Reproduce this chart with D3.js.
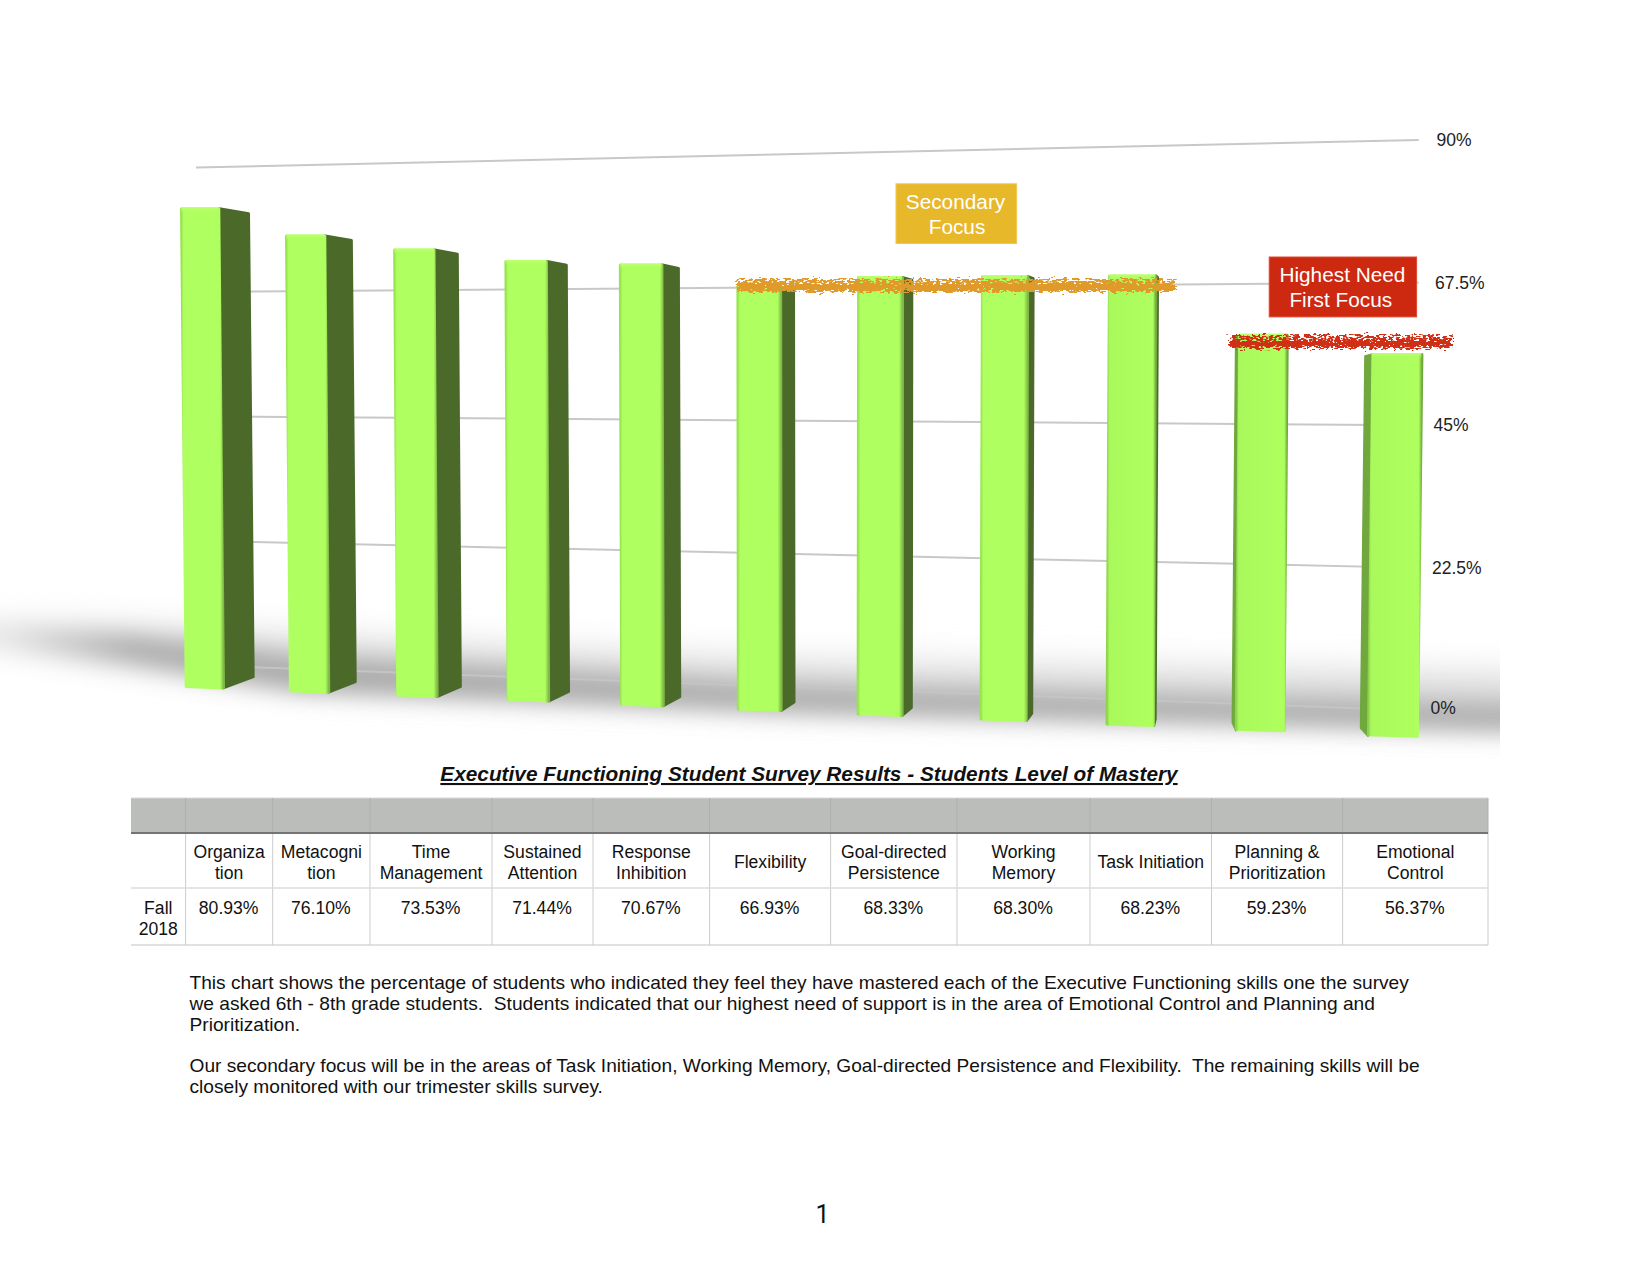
<!DOCTYPE html>
<html><head><meta charset="utf-8">
<style>html,body{margin:0;padding:0;background:#fff}svg{display:block}text{font-family:"Liberation Sans",Arial,sans-serif}</style>
<script src="https://cdn.jsdelivr.net/npm/d3@7"></script>
</head><body><div id="chart"></div>
<script>
const categories = ["Organiza\ntion","Metacogni\ntion","Time\nManagement","Sustained\nAttention","Response\nInhibition","Flexibility","Goal-directed\nPersistence","Working\nMemory","Task Initiation","Planning &\nPrioritization","Emotional\nControl"];
const values = [80.93,76.10,73.53,71.44,70.67,66.93,68.33,68.30,68.23,59.23,56.37];
const rowLabel = "Fall\n2018";
const tickValues = [0,22.5,45,67.5,90];
const tickLabels = ["0%","22.5%","45%","67.5%","90%"];
const title = "Executive Functioning Student Survey Results - Students Level of Mastery";
const paragraphs = [
 "This chart shows the percentage of students who indicated they feel they have mastered each of the Executive Functioning skills one the survey",
 "we asked 6th - 8th grade students.  Students indicated that our highest need of support is in the area of Emotional Control and Planning and",
 "Prioritization.",
 "Our secondary focus will be in the areas of Task Initiation, Working Memory, Goal-directed Persistence and Flexibility.  The remaining skills will be",
 "closely monitored with our trimester skills survey."];

const svg = d3.select("#chart").append("svg").attr("width",1650).attr("height",1275).attr("viewBox","0 0 1650 1275");
const defs = svg.append("defs");

// ---- perspective scales
const depth = i => i*(1+0.0152*i);
const xBase = d3.scaleLinear().domain([0,depth(10)]).range([184.7,1367]);
const baseY = d3.scaleLinear().domain([184.7,1367]).range([688,736.2]);
const unit = d3.scaleLinear().domain([184.7,1367]).range([5.94,6.8]);
const frontW = d3.scaleLinear().domain([184.7,1367]).range([40.3,52]);
const lean = d3.scaleLinear().domain([184.7,1367]).range([-4.7,4.4]);
const sideW = d3.scaleLinear().domain([184.7,1367]).range([29.5,-6.5]);
const gridX = d3.scaleLinear().domain([0,1]).range([196,1418.7]);
const gridLeft = d3.scaleLinear().domain([0,90]).range([665,167.6]);
const gridRight = d3.scaleLinear().domain([0,90]).range([710.5,140]);
const poly = d3.line().curve(d3.curveLinearClosed);

// ---- defs
function grad(id,stops,x2,y2){const g=defs.append("linearGradient").attr("id",id).attr("x1",0).attr("y1",0).attr("x2",x2).attr("y2",y2);
 stops.forEach(s=>g.append("stop").attr("offset",s[0]).attr("stop-color",s[1]).attr("stop-opacity",s[2]===undefined?1:s[2]));}
grad("frontA",[[0,"#98e450"],[0.05,"#aeff5e"],[0.92,"#aeff5e"],[1,"#7fba46"]],1,0);
grad("frontB",[[0,"#8ed44c"],[0.05,"#aaf95c"],[0.94,"#aeff5e"],[1,"#6fa83c"]],1,0);
grad("rim",[[0,"#bfff74"],[1,"#aeff5e",0]],0,1);
function shadeFill(id,x1,c1,x2,c2){const g=defs.append("linearGradient").attr("id",id).attr("gradientUnits","userSpaceOnUse").attr("x1",x1).attr("y1",0).attr("x2",x2).attr("y2",0);
 g.append("stop").attr("offset",0).attr("stop-color",c1); g.append("stop").attr("offset",1).attr("stop-color",c2);}
shadeFill("shadeMain",0,"#e4e4e4",130,"#a6a6a6");
shadeFill("shadeWide",0,"#f4f4f4",220,"#d4d4d4");
defs.append("filter").attr("id","soft").append("feGaussianBlur").attr("stdDeviation",0.7);
function blur(id,sd){const f=defs.append("filter").attr("id",id).attr("x","-10%").attr("y","-300%").attr("width","120%").attr("height","700%");
 f.append("feGaussianBlur").attr("stdDeviation",sd);}
blur("shadow",12); blur("shadowWide",18);
defs.append("clipPath").attr("id","shadowClip").append("rect").attr("x",0).attr("y",560).attr("width",1500).attr("height",200);
function rough(id,seed,holes){
 const f=defs.append("filter").attr("id",id).attr("x","-3%").attr("y","-150%").attr("width","106%").attr("height","400%");
 f.append("feTurbulence").attr("type","fractalNoise").attr("baseFrequency","0.16 0.5").attr("numOctaves",2).attr("seed",seed).attr("result","n");
 f.append("feDisplacementMap").attr("in","SourceGraphic").attr("in2","n").attr("scale",10).attr("xChannelSelector","R").attr("yChannelSelector","G").attr("result","d");
 if(holes){
  f.append("feTurbulence").attr("type","fractalNoise").attr("baseFrequency","0.3 0.6").attr("numOctaves",1).attr("seed",seed+5).attr("result","m");
  f.append("feColorMatrix").attr("in","m").attr("type","matrix").attr("values","0 0 0 0 0  0 0 0 0 0  0 0 0 0 0  12 0 0 0 -"+holes).attr("result","t");
  f.append("feComposite").attr("in","d").attr("in2","t").attr("operator","in");
 }
}
rough("roughA",4,4.6); rough("roughB",11,5); rough("coreA",21,0); rough("coreB",33,0);

// ---- floor shadow
const shadowG = svg.append("g").attr("clip-path","url(#shadowClip)");
shadowG.append("path").attr("filter","url(#shadowWide)").attr("fill","url(#shadeWide)")
 .attr("d",poly([[-30,618],[300,640],[800,665],[1560,678],[1560,716],[800,700],[300,680],[-30,642]]));
shadowG.append("path").attr("filter","url(#shadow)").attr("fill","url(#shadeMain)")
 .attr("d",poly([[-40,622],[130,636],[300,658],[800,686],[1560,706],[1560,732],[800,712],[300,690],[130,662],[-40,642]]));

// ---- gridlines
svg.append("g").selectAll("path").data(tickValues).join("path")
 .attr("fill","none").attr("stroke",v=>v===0?"#c4c4c4":"#c8c8c8").attr("stroke-width",2)
 .attr("d",v=>d3.line()([[gridX(0),gridLeft(v)],[gridX(1),gridRight(v)]]));
svg.append("g").selectAll("text").data(tickValues).join("text")
 .attr("x",v=>1430.5+v/90*6).attr("y",v=>gridRight(v)+(v===0?3.5:6))
 .attr("font-size",17.5).attr("fill","#222").text((v,i)=>tickLabels[i]);

// ---- bars
const bars = values.map((v,i)=>{
 const fx=xBase(depth(i)), w=frontW(fx), b=baseY(fx), top=b-v*unit(fx), l=lean(fx), s=sideW(fx);
 return {i,v,fx,w,b,top,l,s};
});
const barG = svg.append("g").attr("filter","url(#soft)");
const bar = barG.selectAll("g").data(bars).join("g");
bar.filter(d=>d.s>0.5).append("path").attr("fill","#4b6b2c").attr("stroke","#4b6b2c").attr("stroke-width",2.4).attr("stroke-linejoin","round")
 .attr("d",d=>{const tr=d.fx+d.l+d.w-1, br=d.fx+d.w-1;
   return poly([[tr,d.top+1.2],[tr+d.s,d.top+2.6+d.s*0.12],[br+d.s,d.b-(6+d.s*0.17)],[br,d.b]]);});
bar.filter(d=>d.s<-0.5).append("path").attr("fill","#6fa83e").attr("stroke","#6fa83e").attr("stroke-width",1.4).attr("stroke-linejoin","round")
 .attr("d",d=>poly([[d.fx+d.l+1,d.top+1],[d.fx+d.l+d.s,d.top+3],[d.fx+d.s,d.b-8],[d.fx+1,d.b]]));
bar.append("path").attr("fill",d=>d.i>=8?"url(#frontB)":"url(#frontA)")
 .attr("stroke",d=>d.i>=8?"url(#frontB)":"url(#frontA)").attr("stroke-width",3).attr("stroke-linejoin","round")
 .attr("d",d=>poly([[d.fx+d.l+1.5,d.top+1.5],[d.fx+d.l+d.w-1.5,d.top+1.5],[d.fx+d.w-1.5,d.b],[d.fx+1.5,d.b-1.5]]));
bar.append("path").attr("fill","url(#rim)")
 .attr("d",d=>poly([[d.fx+d.l+1,d.top],[d.fx+d.l+d.w-2,d.top],[d.fx+d.l+d.w-2,d.top+6],[d.fx+d.l+1,d.top+6]]));

// ---- highlight scribbles
svg.append("rect").attr("x",737).attr("y",279).attr("width",438).attr("height",13).attr("fill","#e09a2b").attr("filter","url(#roughA)");
svg.append("rect").attr("x",737).attr("y",284).attr("width",438).attr("height",6).attr("fill","#e09a2b").attr("filter","url(#coreA)");
svg.append("rect").attr("x",1230).attr("y",335).attr("width",222).attr("height",14).attr("fill","#d12d14").attr("filter","url(#roughB)");
svg.append("rect").attr("x",1230).attr("y",341).attr("width",222).attr("height",5).attr("fill","#d12d14").attr("filter","url(#coreB)");

// ---- call-out boxes
const boxes=[{x:896,y:183.8,w:120.6,h:59.7,c:"#e8b82b",s:"#f0c850",t:["Secondary","Focus"],cx:[955.5,957],ty:[209,234]},
 {x:1269.2,y:257,w:147.4,h:59.9,c:"#cd2810",s:"#dd4a30",t:["Highest Need","First Focus"],cx:[1342.4,1340.8],ty:[282,307]}];
boxes.forEach(b=>{
 svg.append("rect").attr("x",b.x).attr("y",b.y).attr("width",b.w).attr("height",b.h).attr("fill",b.c).attr("stroke",b.s).attr("stroke-width",1);
 b.t.forEach((t,k)=>svg.append("text").attr("x",b.cx[k]).attr("y",b.ty[k]).attr("text-anchor","middle").attr("font-size",20.8).attr("fill","#fff").text(t));
});

// ---- title
svg.append("text").attr("x",809).attr("y",781).attr("text-anchor","middle").attr("font-size",20.8)
 .attr("font-weight","bold").attr("font-style","italic").attr("text-decoration","underline").attr("fill","#111").text(title);

// ---- table
const colEdges=[131,185.6,272.7,370,492,593,709.6,830.6,957,1090,1211.5,1342.6,1488];
const rowEdges={top:798,head:833,row:888,bottom:945};
const t=svg.append("g");
t.append("rect").attr("x",colEdges[0]).attr("y",rowEdges.top).attr("width",colEdges[12]-colEdges[0]).attr("height",rowEdges.head-rowEdges.top).attr("fill","#bbbdbb");
t.append("line").attr("x1",colEdges[0]).attr("x2",colEdges[12]).attr("y1",rowEdges.top).attr("y2",rowEdges.top).attr("stroke","#d9d9d9").attr("stroke-width",1);
colEdges.slice(1).forEach(x=>{
 t.append("line").attr("x1",x).attr("x2",x).attr("y1",rowEdges.top).attr("y2",rowEdges.head).attr("stroke","#aeb0ae").attr("stroke-width",1);
 t.append("line").attr("x1",x).attr("x2",x).attr("y1",rowEdges.head).attr("y2",rowEdges.bottom).attr("stroke","#cccccc").attr("stroke-width",1);
});
t.append("line").attr("x1",colEdges[0]).attr("x2",colEdges[12]).attr("y1",rowEdges.row).attr("y2",rowEdges.row).attr("stroke","#dcdcdc").attr("stroke-width",1.6);
t.append("line").attr("x1",colEdges[0]).attr("x2",colEdges[12]).attr("y1",rowEdges.bottom).attr("y2",rowEdges.bottom).attr("stroke","#c4c4c4").attr("stroke-width",1.2);
t.append("line").attr("x1",colEdges[0]).attr("x2",colEdges[12]).attr("y1",rowEdges.head).attr("y2",rowEdges.head).attr("stroke","#747474").attr("stroke-width",2);
function cell(c,lines,top,dx){
 const cx=(colEdges[c]+colEdges[c+1])/2+(dx||0);
 lines.forEach((s,k)=>t.append("text").attr("x",cx).attr("y",top+k*21).attr("text-anchor","middle").attr("font-size",17.6).attr("fill","#111").text(s));
}
categories.forEach((c,i)=>{const L=c.split("\n"); cell(i+1,L,L.length>1?858:867.5,0);});
values.forEach((v,i)=>cell(i+1,[d3.format(".2f")(v)+"%"],914,-0.5));
cell(0,rowLabel.split("\n"),914);

// ---- notes
const noteY=[989,1010,1031,1072,1093];
paragraphs.forEach((p,i)=>svg.append("text").attr("x",189.5).attr("y",noteY[i]).attr("font-size",19.15).attr("fill","#111").style("white-space","pre").text(p));
svg.append("text").attr("x",822.5).attr("y",1222.5).attr("text-anchor","middle").attr("font-size",25).attr("fill","#111").style("font-family","Roboto").text("1");
</script></body></html>
